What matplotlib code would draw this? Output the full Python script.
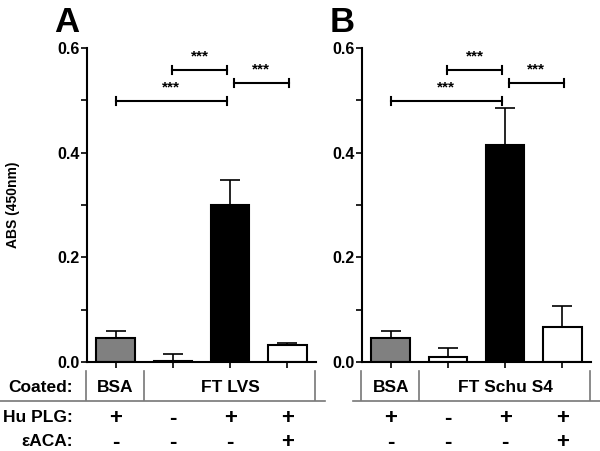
import matplotlib
matplotlib.use("Agg")
import matplotlib.pyplot as plt
from matplotlib.lines import Line2D
from matplotlib.transforms import blended_transform_factory

plt.rcParams['font.family'] = ['Liberation Sans', 'DejaVu Sans']

# data
panels = ['A', 'B']
coated_groups = [['BSA', 'FT LVS'], ['BSA', 'FT Schu S4']]
means = [[0.046, 0.002, 0.300, 0.032],
         [0.046, 0.010, 0.414, 0.067]]
errors = [[0.013, 0.013, 0.048, 0.004],
          [0.013, 0.017, 0.071, 0.040]]
hu_plg = ['+', '-', '+', '+']
eaca = ['-', '-', '-', '+']
bar_colors = ['#808080', 'white', 'black', 'white']
# brackets: (x0, x1, y)
brackets = [(0.98, 1.95, 0.558), (2.07, 3.02, 0.533), (0.0, 1.95, 0.499)]

W, H = 600, 451
fig = plt.figure(figsize=(6, 4.51), dpi=100)


def fy(py):
    return 1 - py / H


ax_left_px = [87, 362]
for i, p in enumerate(panels):
    x0 = ax_left_px[i]
    ax = fig.add_axes([x0 / W, fy(362), 229 / W, (362 - 48) / H])
    xs = list(range(4))
    ax.bar(xs, means[i], width=0.67, color=bar_colors, edgecolor='black', linewidth=1.5, zorder=2)
    ax.errorbar(xs, means[i], yerr=[[0] * 4, errors[i]], fmt='none', ecolor='black',
                elinewidth=1.2, capsize=7, capthick=1.2, zorder=1)
    ax.set_xlim(-0.5, 3.5)
    ax.set_ylim(0, 0.6)
    ax.set_yticks([0.0, 0.2, 0.4, 0.6])
    ax.set_yticks([0.1, 0.3, 0.5], minor=True)
    ax.set_yticklabels(['0.0', '0.2', '0.4', '0.6'], fontsize=11.5, fontweight='bold')
    ax.set_xticks(xs)
    ax.set_xticklabels([])
    ax.tick_params(axis='both', which='both', width=1.2, length=4, direction='out')
    ax.tick_params(axis='y', pad=1)
    for s in ['top', 'right']:
        ax.spines[s].set_visible(False)
    for s in ['left', 'bottom']:
        ax.spines[s].set_linewidth(1.5)

    # significance brackets
    for bx0, bx1, by in brackets:
        ax.plot([bx0, bx1], [by, by], color='black', lw=1.5, clip_on=False)
        for bx in (bx0, bx1):
            ax.plot([bx, bx], [by - 0.007, by + 0.007], color='black', lw=1.5, clip_on=False)
        ax.text((bx0 + bx1) / 2, by + 0.012, '***', ha='center', va='bottom', fontsize=11,
                fontweight='bold')

    # panel letter
    fig.text((x0 - 20) / W, fy(22), p, fontsize=25, fontweight='bold', ha='center', va='center')

    # table under the axis
    tr = blended_transform_factory(ax.transData, fig.transFigure)
    for vx in (-0.52, 0.5, 3.48):
        ax.add_line(Line2D([vx, vx], [fy(371), fy(400)], transform=tr, color='#777777',
                           lw=1.2, clip_on=False))
    hl0 = 0 if i == 0 else 353
    hl1 = 325 if i == 0 else 600
    fig.add_artist(Line2D([hl0 / W, hl1 / W], [fy(401), fy(401)], color='#777777', lw=1.2))
    ax.text(0, fy(387), coated_groups[i][0], transform=tr, ha='center', va='center',
            fontsize=12.5, fontweight='bold')
    ax.text(2, fy(387), coated_groups[i][1], transform=tr, ha='center', va='center',
            fontsize=12.5, fontweight='bold')
    for k in range(4):
        ax.text(k, fy(418), hu_plg[k], transform=tr, ha='center', va='center',
                fontsize=16, fontweight='bold')
        ax.text(k, fy(442), eaca[k], transform=tr, ha='center', va='center',
                fontsize=16, fontweight='bold')

fig.text(13 / W, fy(205), 'ABS (450nm)', rotation=90, ha='center', va='center',
         fontsize=10, fontweight='bold')
fig.text(73 / W, fy(387), 'Coated:', ha='right', va='center', fontsize=12.5, fontweight='bold')
fig.text(73 / W, fy(418), 'Hu PLG:', ha='right', va='center', fontsize=12.5, fontweight='bold')
fig.text(73 / W, fy(442), 'εACA:', ha='right', va='center', fontsize=12.5, fontweight='bold')

fig.savefig('out.png', dpi=100)
